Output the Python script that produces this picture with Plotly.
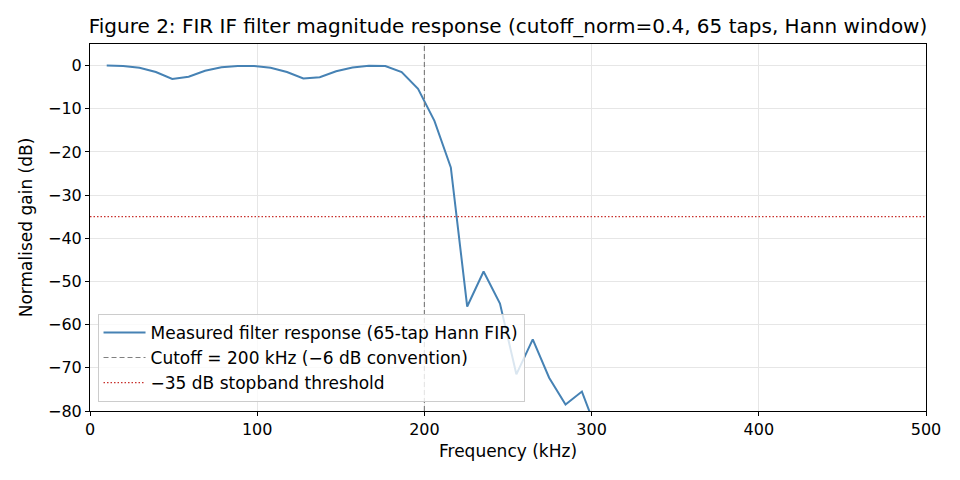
import plotly.graph_objects as go

freq_khz = [10.0, 19.8, 29.6, 39.4, 49.2, 59.0, 68.8, 78.6, 88.4, 98.2,
            108.0, 117.8, 127.6, 137.4, 147.2, 157.0, 166.8, 176.6, 186.4, 196.2,
            206.0, 215.8, 225.6, 235.4, 245.2, 255.0, 264.8, 274.6, 284.4, 294.2,
            304.0]
gain_db = [0.0, -0.1, -0.5, -1.5, -3.1, -2.6, -1.2, -0.4, -0.1, -0.1,
           -0.5, -1.5, -3.0, -2.7, -1.3, -0.45, -0.05, -0.1, -1.5, -5.4,
           -12.8, -23.6, -55.8, -47.7, -55.1, -71.5, -63.4, -72.3, -78.5, -75.5,
           -85.5]
cutoff_khz = 200
threshold_db = -35
x_range = [0, 500]
y_range = [-80, 5]
x_ticks = [0, 100, 200, 300, 400, 500]
y_ticks = [0, -10, -20, -30, -40, -50, -60, -70, -80]

font = "DejaVu Sans"
fs = 16
fl = 17
fig = go.Figure()
fig.add_trace(go.Scatter(x=freq_khz, y=gain_db, mode="lines",
                         line=dict(color="#4682b4", width=2),
                         name="Measured filter response (65-tap Hann FIR)"))
fig.add_trace(go.Scatter(x=[cutoff_khz, cutoff_khz], y=y_range, mode="lines",
                         line=dict(color="#808080", width=1.2, dash="5px,3px"),
                         name="Cutoff = 200 kHz (\u22126 dB convention)"))
fig.add_trace(go.Scatter(x=x_range, y=[threshold_db, threshold_db], mode="lines",
                         line=dict(color="#c8302c", width=1.2, dash="1.5px,2px"),
                         name="\u221235 dB stopband threshold"))

axis_common = dict(showline=True, linecolor="black", linewidth=1, mirror=True,
                   ticks="outside", ticklen=4, tickcolor="black",
                   showgrid=True, gridcolor="#e6e6e6", gridwidth=1, zeroline=False,
                   tickfont=dict(family=font, size=fs, color="black"))
fig.update_xaxes(range=x_range, tickvals=x_ticks, **axis_common,
                 title=dict(text="Frequency (kHz)", font=dict(family=font, size=fl, color="black"), standoff=6))
fig.update_yaxes(range=y_range, tickvals=y_ticks,
                 ticktext=[("\u2212" + str(-v)) if v < 0 else str(v) for v in y_ticks],
                 **axis_common,
                 title=dict(text="Normalised gain (dB)", font=dict(family=font, size=fl, color="black"), standoff=11))
fig.update_layout(
    width=960, height=480,
    margin=dict(l=90, r=34, t=44, b=69),
    plot_bgcolor="white", paper_bgcolor="white",
    title=dict(text="Figure 2: FIR IF filter magnitude response (cutoff_norm=0.4, 65 taps, Hann window)",
               font=dict(family=font, size=20, color="black"),
               x=0.5, xref="paper", xanchor="center", y=0.945, yanchor="middle"),
    legend=dict(x=0.009, y=0.025, xanchor="left", yanchor="bottom",
                bgcolor="rgba(255,255,255,0.8)", bordercolor="#cccccc", borderwidth=1,
                font=dict(family=font, size=fl, color="black"), tracegroupgap=0,
                itemwidth=42),
    showlegend=True,
)
fig.write_html("out.html")
